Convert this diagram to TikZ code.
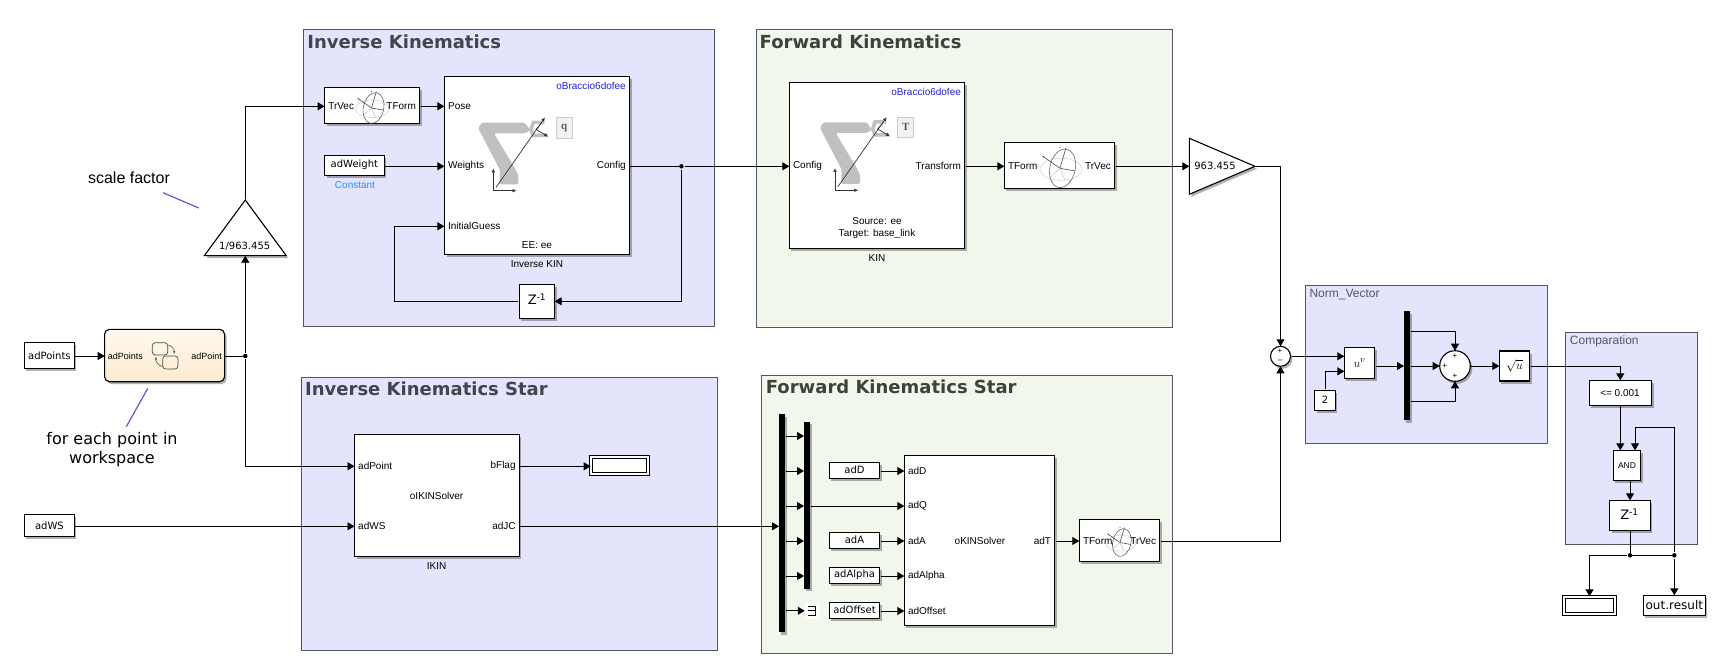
\documentclass[tikz,border=0pt]{standalone}
\usepackage{fontspec}
\setmainfont{Liberation Sans}
\newfontfamily\dejavu{DejaVu Sans}
\newfontfamily\letterfont{Liberation Serif}
\usetikzlibrary{arrows.meta,shapes.geometric,shadows}
\definecolor{panelblue}{HTML}{E4E4FC}
\definecolor{panelgreen}{HTML}{F1F7EA}
\definecolor{panelline}{HTML}{55555F}
\definecolor{titleblue}{HTML}{44444F}
\definecolor{titlegreen}{HTML}{3F423C}
\definecolor{subtitle}{HTML}{55556A}
\definecolor{notecolor}{HTML}{5B5BD9}
\definecolor{constcolor}{HTML}{1E90FF}
\definecolor{maskblue}{HTML}{2222DD}
\definecolor{armgray}{HTML}{C0C0C0}
\definecolor{charttop}{HTML}{FFF9F0}
\definecolor{chartlow}{HTML}{FDEACD}
\tikzset{
  >={Triangle[length=7pt,width=8pt]},
  shade/.style={drop shadow={shadow xshift=2pt,shadow yshift=-2.5pt,fill=black,opacity=.3}},
  panel/.style={draw=panelline, line width=.9pt},
  paneltitle/.style={anchor=west, inner sep=0pt, font=\dejavu\bfseries\fontsize{18}{20}\selectfont},
  smalltitle/.style={anchor=west, inner sep=0pt, text=subtitle, font=\fontsize{12}{14}\selectfont},
  block/.style={draw, fill=white, line width=1.1pt, inner sep=0pt, outer sep=0pt, shade},
  display/.style={draw, fill=white, line width=.9pt, double=white, double distance=2pt, inner sep=0pt, shade},
  bus/.style={fill=black, inner sep=0pt, outer sep=0pt, minimum width=6pt, shade},
  gainshape/.style={draw, fill=white, line width=1.1pt, isosceles triangle, isosceles triangle stretches, inner sep=0pt, outer sep=0pt, shade},
  sumshape/.style={draw, fill=white, line width=1.1pt, circle, inner sep=0pt, outer sep=0pt, shade},
  portl/.style={anchor=west, inner xsep=3.5pt, inner ysep=0pt, font=\fontsize{10}{12}\selectfont},
  portr/.style={anchor=east, inner xsep=3.5pt, inner ysep=0pt, font=\fontsize{10}{12}\selectfont},
  plain/.style={inner sep=0pt, font=\fontsize{10}{12}\selectfont},
  boxtext/.style={inner sep=0pt, font=\dejavu\fontsize{10}{12}\selectfont},
  sign/.style={inner sep=0pt, font=\fontsize{8}{9}\selectfont},
  note/.style={inner sep=0pt, align=center},
  wire/.style={->, line width=.9pt, shorten <=1pt},
  link/.style={line width=.9pt},
  notelink/.style={draw=notecolor, line width=1.2pt},
  dot/.style={circle, fill=black, inner sep=0pt, minimum size=4.5pt},
  sphereicon/.pic={
    \draw[black!14, line width=.7pt] (1,1) ellipse (21 and 11);
    \draw[black!60, line width=.6pt, rotate=-12] (2.5,-.5) ellipse (12.7 and 19.5);
    \draw[black!70, line width=.6pt] (-16.7,-11.7) -- (0,0) -- (6,-20.7) (0,0) -- (15,2.7);
    \draw[black!25, line width=.5pt] (-10,9) -- (0,0) -- (5,12);
    \fill[black!70] (-16.7,-11.7) circle (.9) (10,12.7) circle (.7) (0,-21) circle (.7);
  },
  armicon/.pic={
    \fill[armgray, rounded corners=1.5pt] (6,-5) -- (25,-5) -- (25,-14.3) -- (21.7,-21) -- (.7,-56) -- (31.7,-56) -- (36.7,-59.3) -- (31.7,-66.7) -- (-11.7,-66.7) -- (-15,-61) -- (6.7,-19.3) -- cycle;
    \draw[armgray, line width=3.5pt] (51,-67) -- (40,-67) -- (37.5,-60) -- (40,-54) -- (54,-54);
    \draw[black!80, -{Latex[length=4pt,width=3.5pt]}, line width=.7pt] (2.7,-2) -- (51.7,-72);
    \draw[black!80, -{Latex[length=4pt,width=3.5pt]}, line width=.7pt] (42.7,-60) -- (55,-52.7);
    \draw[black!80, line width=.7pt] (42.7,-60) -- (48,-66);
    \draw[black!80, {Latex[length=4pt,width=3.5pt]}-{Latex[length=4pt,width=3.5pt]}, line width=.7pt] (0,-21) -- (0,1.3) -- (23.3,1.3);
    \node[draw=black!20, fill=black!5, line width=.8pt, minimum width=16pt, minimum height=20.5pt, inner sep=0pt, text=black!65, font=\letterfont\bfseries\fontsize{11}{12}\selectfont] at (70.8,-61.7) {#1};
  },
}
\begin{document}
\begin{tikzpicture}[x=1pt,y=-1pt]
\useasboundingbox (0,0) rectangle (1727,671);
\draw[panel, fill=panelblue] (303.5,29.3) rectangle (714.4,326);
\draw[panel, fill=panelgreen] (756.4,29.3) rectangle (1172.5,327.3);
\draw[panel, fill=panelblue] (301.7,377.3) rectangle (717.6,650.7);
\draw[panel, fill=panelgreen] (761.3,375) rectangle (1172.3,653.3);
\draw[panel, fill=panelblue] (1305.3,285.3) rectangle (1547.3,443.3);
\draw[panel, fill=panelblue] (1565.3,332.3) rectangle (1697.3,544.3);
\node[paneltitle, text=titleblue] (ikTitle) at (307.2,42) {Inverse Kinematics};
\node[paneltitle, text=titlegreen] (fkTitle) at (759.5,42) {Forward Kinematics};
\node[paneltitle, text=titleblue] (ikStarTitle) at (305,388.8) {Inverse Kinematics Star};
\node[paneltitle, text=titlegreen] (fkStarTitle) at (765.7,387.2) {Forward Kinematics Star};
\node[smalltitle] (normTitle) at (1309.3,294.7) {Norm\_Vector};
\node[smalltitle] (cmpTitle) at (1569.7,341.7) {Comparation};

\node[block, minimum width=50, minimum height=26] (adPoints) at (49.4,355.3) {};
\node[boxtext] (adPointsText) at (49.4,355.3) {adPoints};
\node[block, minimum width=50, minimum height=22] (adWS) at (49.4,525.7) {};
\node[boxtext] (adWSText) at (49.4,525.3) {adWS};
\node[block, rounded corners=5pt, top color=charttop, bottom color=chartlow, minimum width=120, minimum height=52.4] (chart) at (164.6,355.5) {};
\node[portl, inner xsep=3pt, font=\fontsize{9}{11}\selectfont] (chartIn) at (104.7,356) {adPoints};
\node[portr, inner xsep=2.5pt, font=\fontsize{9}{11}\selectfont] (chartOut) at (224.5,356) {adPoint};
\draw[black!70, line width=.7pt, rounded corners=3pt] (152.3,342.7) rectangle (167.7,355);
\draw[black!70, line width=.7pt, rounded corners=3pt] (162.7,356) rectangle (178,369);
\draw[black!70, line width=.6pt, -{Latex[length=2.5pt,width=2.5pt]}] (168.3,345) to[bend left=40] (174,353.8);
\draw[black!70, line width=.6pt, -{Latex[length=2.5pt,width=2.5pt]}] (162.7,366.7) to[bend left=40] (156,357);
\node[dot] (jctChart) at (245.3,356) {};
\node[gainshape, shape border rotate=90, minimum height=55.7, minimum width=82, anchor=apex] (gainA) at (245.3,200) {};
\node[boxtext] (gainAText) at (244.7,246) {1/963.455};
\node[note, font=\fontsize{16}{18}\selectfont] (scaleNote) at (129,177.7) {scale factor};
\coordinate (scaleA) at (163,192.7);
\coordinate (scaleB) at (198.8,208);
\draw[notelink] (scaleA) -- (scaleB);
\node[note, font=\dejavu\fontsize{16}{19}\selectfont] (pointNote) at (112,450) {for each point in\\workspace};
\coordinate (pointA) at (147.8,388.3);
\coordinate (pointB) at (126.3,426.7);
\draw[notelink] (pointA) -- (pointB);

\node[block, minimum width=95, minimum height=36] (trvecA) at (372.1,105.3) {};
\pic[scale=.8] at (371.5,108) {sphereicon};
\node[portl] (trvecAIn) at (324.6,106.3) {TrVec};
\node[portr] (trvecAOut) at (419.6,106.3) {TForm};
\node[block, minimum width=59.7, minimum height=20] (adWeight) at (354.4,165.3) {};
\node[boxtext] (adWeightText) at (354.4,165) {adWeight};
\node[plain, text=constcolor] (adWeightName) at (355,185.3) {Constant};
\node[block, minimum width=185, minimum height=178] (ikBlock) at (537,165.3) {};
\pic at (493.3,189.4) {armicon=q};
\node[portr, text=maskblue] (ikMask) at (629.5,86.3) {oBraccio6dofee};
\node[portl] (ikPose) at (444.4,106.3) {Pose};
\node[portl] (ikWeights) at (444.4,166.3) {Weights};
\node[portl] (ikGuess) at (444.4,226.3) {InitialGuess};
\node[portr] (ikConfig) at (629.5,166.3) {Config};
\node[plain] (ikEE) at (537,245.5) {EE: ee};
\node[plain] (ikName) at (537,264.5) {Inverse KIN};
\node[block, minimum width=35.3, minimum height=34] (delayA) at (537,301.3) {};
\node[boxtext, font=\dejavu\fontsize{13}{15}\selectfont] (delayAText) at (537,299.5) {Z\textsuperscript{-1}};
\node[dot] (jctConfig) at (681.4,166.3) {};
\coordinate (loopCorner) at (394.4,226.3);

\node[block, minimum width=175.3, minimum height=166] (fkBlock) at (877,165.3) {};
\pic at (835,189) {armicon=T};
\node[portr, text=maskblue] (fkMask) at (964.6,92.3) {oBraccio6dofee};
\node[portl] (fkConfig) at (789.3,166.3) {Config};
\node[portr] (fkTransform) at (964.6,166.3) {Transform};
\node[plain, align=center] (fkFrames) at (877,228.2) {Source: ee\\Target: base\_link};
\node[plain] (fkName) at (877,258) {KIN};
\node[block, minimum width=110.3, minimum height=46] (tformA) at (1059.4,165.3) {};
\pic at (1060,168.3) {sphereicon};
\node[portl] (tformAIn) at (1004.3,166.3) {TForm};
\node[portr] (tformAOut) at (1114.6,166.3) {TrVec};
\node[gainshape, minimum height=65.7, minimum width=56, anchor=apex] (gainB) at (1255,166.3) {};
\node[boxtext] (gainBText) at (1215,166) {963.455};

\node[block, minimum width=164.8, minimum height=122] (ikStar) at (436.9,495.3) {};
\node[portl] (ikStarPoint) at (354.5,466.3) {adPoint};
\node[portl] (ikStarWS) at (354.5,526.3) {adWS};
\node[portr] (ikStarFlag) at (519.3,466.3) {bFlag};
\node[portr] (ikStarJC) at (519.3,526.3) {adJC};
\node[plain] (ikStarText) at (436.6,496.3) {oIKINSolver};
\node[plain] (ikStarName) at (436.6,566.3) {IKIN};
\node[display, minimum width=57, minimum height=17] (flagShow) at (619.6,465.3) {};

\node[bus, minimum height=218] (busA) at (782,523) {};
\node[bus, minimum height=166.7] (busB) at (807,505.3) {};
\foreach \yy in {436,471,506,541,576} {
  \draw[wire] (busA.east |- 0,\yy) -- (busB.west |- 0,\yy);
}
\node[fill=white, inner sep=0pt, minimum width=14.7, minimum height=15.7] (termA) at (812.3,610.8) {};
\draw[line width=.9pt] (807.5,606.3) -- (815,606.3) -- (815,615.4) -- (807.5,615.4) (807.5,610.8) -- (815,610.8);
\draw[wire] (busA.east |- termA) -- (termA.west);
\node[block, minimum width=50.4, minimum height=16.4] (adD) at (854.5,470.5) {};
\node[boxtext] (adDText) at (854.5,470) {adD};
\node[block, minimum width=50.4, minimum height=16.4] (adA) at (854.5,540.5) {};
\node[boxtext] (adAText) at (854.5,540) {adA};
\node[block, minimum width=50.4, minimum height=16.4] (adAlpha) at (854.5,575.5) {};
\node[boxtext] (adAlphaText) at (854.5,575) {adAlpha};
\node[block, minimum width=50.4, minimum height=16.4] (adOffset) at (854.5,610.5) {};
\node[boxtext] (adOffsetText) at (854.5,610) {adOffset};
\node[block, minimum width=150.4, minimum height=170.4] (fkStar) at (979.5,540.5) {};
\node[portl] (fkStarD) at (904.3,471) {adD};
\node[portl] (fkStarQ) at (904.3,506) {adQ};
\node[portl] (fkStarA) at (904.3,541) {adA};
\node[portl] (fkStarAlpha) at (904.3,576) {adAlpha};
\node[portl] (fkStarOffset) at (904.3,611) {adOffset};
\node[portr] (fkStarT) at (1054.7,541) {adT};
\node[plain] (fkStarText) at (980,541) {oKINSolver};
\node[block, minimum width=80.4, minimum height=42.4] (tformB) at (1119.5,540.5) {};
\pic[scale=.72] at (1120,542.5) {sphereicon};
\node[portl] (tformBIn) at (1079.3,541) {TForm};
\node[portr] (tformBOut) at (1159.7,541) {TrVec};

\node[sumshape, minimum size=20] (sumA) at (1280.5,356.3) {};
\node[sign] (sumAPlus) at (1280,351.3) {+};
\node[sign] (sumAMinus) at (1280,361) {--};
\node[block, minimum width=30.4, minimum height=31] (powBlock) at (1359.5,362.8) {};
\node[plain, font=\fontsize{13}{14}\selectfont] (powText) at (1359.5,363) {$u^{v}$};
\coordinate (powA) at (1344.3,356.3);
\coordinate (powB) at (1344.3,371.3);
\coordinate (powOut) at (1374.7,366);
\node[block, minimum width=20.4, minimum height=20] (constTwo) at (1325,400.3) {};
\node[boxtext] (constTwoText) at (1325,400) {2};
\node[bus, minimum height=109] (busC) at (1407,365.5) {};
\node[sumshape, minimum size=30.6] (sumB) at (1455,366) {};
\node[sign] (sumBTop) at (1455,356) {+};
\node[sign] (sumBLeft) at (1444.7,366) {+};
\node[sign] (sumBLow) at (1455,376) {+};
\node[block, minimum width=30.4, minimum height=30] (sqrtBlock) at (1514.5,366) {};
\node[plain, font=\fontsize{13}{15}\selectfont] (sqrtText) at (1514.5,366) {$\sqrt{u}$};
\node[block, minimum width=62.4, minimum height=25] (cmpBlock) at (1620.3,392.8) {};
\node[plain] (cmpText) at (1620,393) {<= 0.001};
\node[block, minimum width=27.4, minimum height=30] (andBlock) at (1627,465.3) {};
\node[plain, font=\fontsize{8.5}{9}\selectfont] (andText) at (1627,465.5) {AND};
\coordinate (andA) at (1620.3,450.3);
\coordinate (andB) at (1635,450.3);
\node[block, minimum width=40.4, minimum height=30] (delayB) at (1630,515.3) {};
\node[boxtext, font=\dejavu\fontsize{13}{15}\selectfont] (delayBText) at (1629.5,514) {Z\textsuperscript{-1}};
\node[dot] (jctOut) at (1630,555.3) {};
\node[dot] (jctBack) at (1674.3,555.3) {};
\coordinate (backCorner) at (1674.3,427.3);
\node[display, minimum width=51.5, minimum height=17] (resultShow) at (1589.5,605.3) {};
\node[block, minimum width=62, minimum height=20] (outResult) at (1674.3,605.3) {};
\node[boxtext, font=\dejavu\fontsize{12}{14}\selectfont] (outResultText) at (1674.3,605) {out.result};

\draw[wire] (adPoints.east |- chartIn) -- (chartIn.west);
\draw[link] (chartOut.east) -- (jctChart);
\draw[wire] (jctChart) -- (gainA.south);
\draw[wire] (gainA.apex) |- (trvecAIn.west);
\draw[wire] (jctChart) |- (ikStarPoint.west);
\draw[wire] (adWS.east |- ikStarWS) -- (ikStarWS.west);
\draw[wire] (trvecAOut.east) -- (ikPose.west);
\draw[wire] (adWeight.east |- ikWeights) -- (ikWeights.west);
\draw[link] (ikConfig.east) -- (jctConfig);
\draw[wire] (jctConfig) -- (fkConfig.west);
\draw[wire] (jctConfig) |- (delayA.east);
\draw[wire] (delayA.west) -| (loopCorner) -- (ikGuess.west);
\draw[wire] (fkTransform.east) -- (tformAIn.west);
\draw[wire] (tformAOut.east) -- (gainB.west);
\draw[wire] (gainB.apex) -| (sumA.north);
\draw[wire] (ikStarFlag.east) -- (flagShow.west |- ikStarFlag);
\draw[wire] (ikStarJC.east) -- (busA.west |- ikStarJC);
\draw[wire] (adD.east |- fkStarD) -- (fkStarD.west);
\draw[wire] (busB.east |- fkStarQ) -- (fkStarQ.west);
\draw[wire] (adA.east |- fkStarA) -- (fkStarA.west);
\draw[wire] (adAlpha.east |- fkStarAlpha) -- (fkStarAlpha.west);
\draw[wire] (adOffset.east |- fkStarOffset) -- (fkStarOffset.west);
\draw[wire] (fkStarT.east) -- (tformBIn.west);
\draw[wire] (tformBOut.east) -| (sumA.south);
\draw[wire] (sumA.east) -- (powA);
\draw[wire] (constTwo.north) |- (powB);
\draw[wire] (powOut) -- (busC.west |- powOut);
\draw[wire] (busC.east |- 0,331.3) -| (sumB.north);
\draw[wire] (busC.east |- sumB) -- (sumB.west);
\draw[wire] (busC.east |- 0,401.3) -| (sumB.south);
\draw[wire] (sumB.east) -- (sqrtBlock.west);
\draw[wire] (sqrtBlock.east) -| (cmpBlock.north);
\draw[wire] (cmpBlock.south -| andA) -- (andA);
\draw[wire] (andBlock.south -| delayB) -- (delayB.north);
\draw[link] (delayB.south) -- (jctOut);
\draw[link] (jctOut) -- (jctBack);
\draw[wire] (jctOut) -| (resultShow.north);
\draw[wire] (jctBack) -- (outResult.north);
\draw[wire] (jctBack) -- (backCorner) -| (andB);
\end{tikzpicture}
\end{document}
